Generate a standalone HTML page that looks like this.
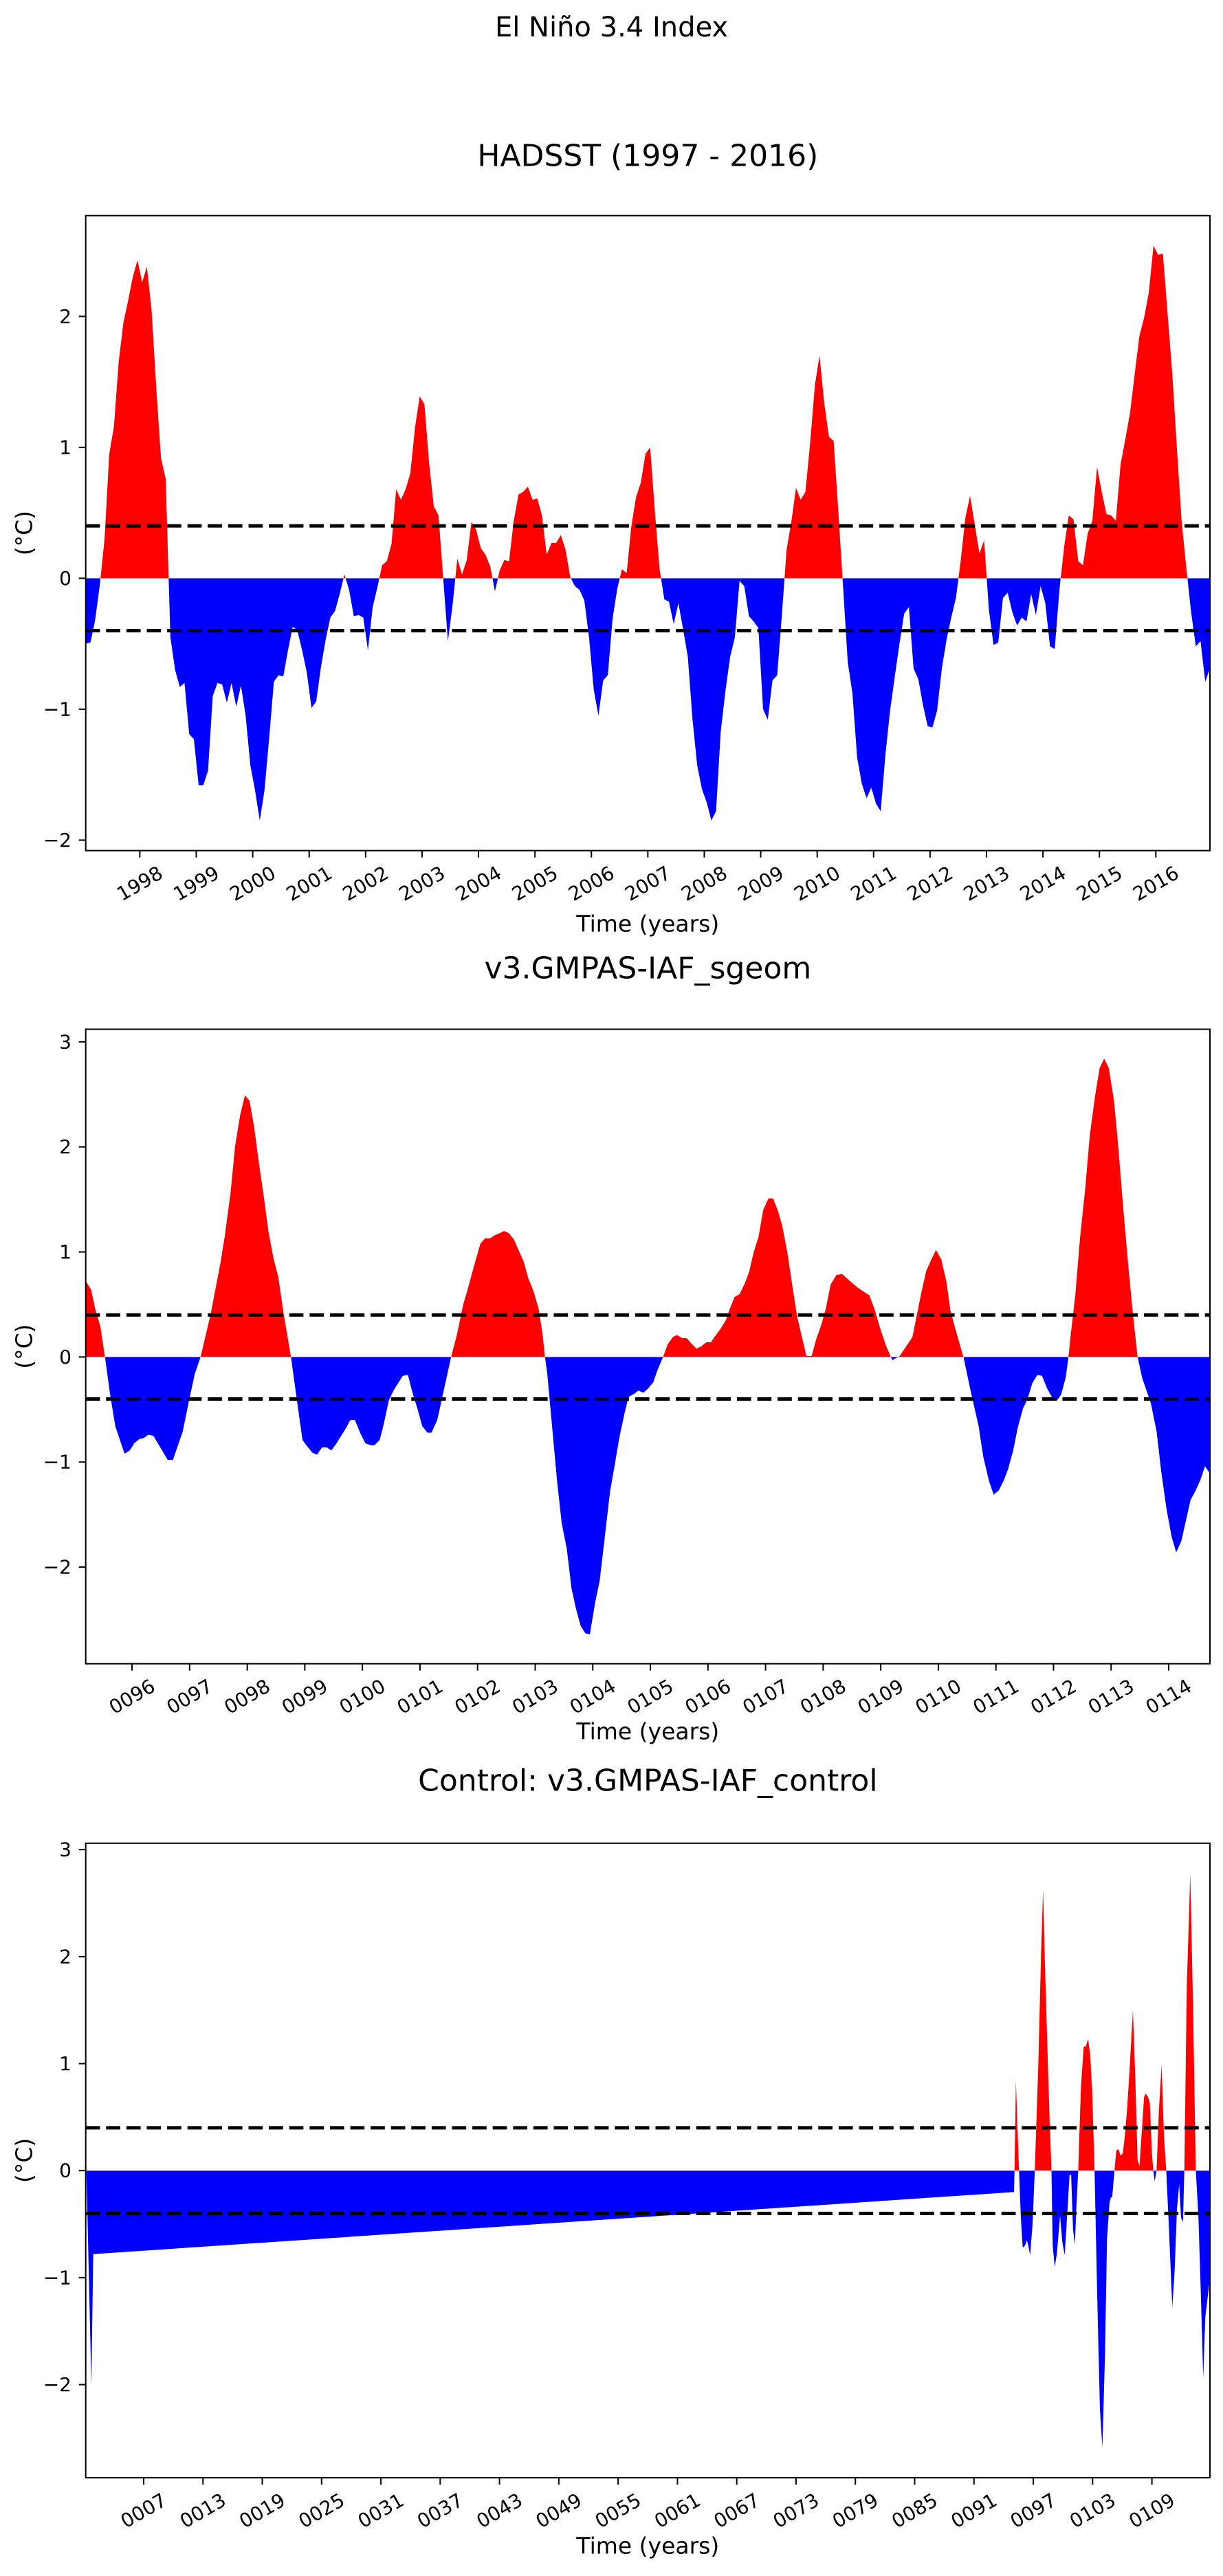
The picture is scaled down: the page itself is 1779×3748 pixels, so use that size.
<!DOCTYPE html>
<html><head><meta charset="utf-8"><title>El Niño 3.4 Index</title>
<style>html,body{margin:0;padding:0;background:#fff}svg{display:block}text{font-family:"DejaVu Sans","Liberation Sans",sans-serif;fill:#000}</style>
</head><body>
<svg id="fig" width="1779" height="3748" viewBox="0 0 1779 3748" xmlns="http://www.w3.org/2000/svg">
<rect width="1779" height="3748" fill="#fff"/>
<text x="889.5" y="40" font-size="40" text-anchor="middle" dominant-baseline="central">El Niño 3.4 Index</text>
</svg>
<script>
// ---- Panel 1: HADSST monthly (Jan 1997 - Dec 2016) ----
const hadsstValues = [
-0.5,-0.49,-0.32,-0.05,0.3,0.95,1.16,1.65,1.95,2.12,2.3,2.43,2.26,2.38,2.05,1.45,0.92,0.76,-0.45,-0.7,
-0.83,-0.8,-1.19,-1.23,-1.58,-1.58,-1.47,-0.9,-0.8,-0.81,-0.95,-0.8,-0.98,-0.82,-1.05,-1.43,-1.62,-1.85,-1.62,-1.22,
-0.79,-0.74,-0.75,-0.55,-0.37,-0.4,-0.55,-0.72,-0.99,-0.94,-0.68,-0.47,-0.3,-0.25,-0.12,0.03,-0.09,-0.29,-0.28,-0.3,
-0.55,-0.22,-0.07,0.1,0.13,0.26,0.68,0.6,0.68,0.8,
1.15,1.39,1.33,0.88,0.55,0.48,0.0,-0.48,-0.2,0.15,0.03,0.14,0.43,0.37,0.23,0.18,0.09,-0.1,0.06,0.14,
0.13,0.44,0.64,0.66,0.7,0.6,0.61,0.48,0.18,0.27,0.27,0.33,0.22,0.01,-0.06,-0.09,-0.17,-0.45,-0.85,-1.05,
-0.78,-0.74,-0.31,-0.08,0.07,0.04,0.4,0.62,0.73,0.95,1.0,0.51,0.07,-0.16,-0.18,-0.35,-0.19,-0.39,-0.6,-1.08,
-1.43,-1.61,-1.71,-1.85,-1.78,-1.17,-0.86,-0.6,-0.45,-0.02,-0.06,-0.29,-0.33,-0.38,-1.0,-1.08,-0.78,-0.74,-0.28,0.22,
0.43,0.69,0.6,0.66,1.03,
1.47,1.7,1.34,1.08,1.05,0.51,-0.06,-0.64,-0.88,-1.37,-1.57,-1.68,-1.6,-1.72,-1.78,-1.35,-1.01,-0.75,-0.5,-0.27,
-0.22,-0.69,-0.77,-0.97,-1.13,-1.14,-1.01,-0.69,-0.47,-0.3,-0.15,0.13,0.46,0.63,0.41,0.19,0.29,-0.24,-0.51,-0.49,
-0.15,-0.11,-0.26,-0.36,-0.3,-0.33,-0.12,-0.28,-0.06,-0.19,-0.52,-0.54,-0.09,0.24,0.48,0.45,0.13,0.1,0.34,0.44,
0.85,0.66,0.49,0.48,0.44,0.87,1.06,1.26,1.56,1.85,1.99,2.18,2.54,2.47,2.48,2.02,1.56,0.98,0.43,0.07,
-0.26,-0.52,-0.48,-0.79,-0.69];
const hadsstStartYear = 1997;
const hadsstTickYears = [1998,1999,2000,2001,2002,2003,2004,2005,2006,2007,2008,2009,2010,2011,2012,2013,2014,2015,2016];
const hadsstYTicks = [-2,-1,0,1,2];

// ---- Panel 2: v3.GMPAS-IAF_sgeom ----
const sgeomYears = [95.2,95.29,95.36,95.45,95.53,95.62,95.71,95.79,95.87,95.96,96.04,96.13,96.21,96.28,96.37,96.62,96.71,96.88,96.98,97.09,
97.19,97.37,97.54,97.61,97.71,97.79,97.88,97.96,98.04,98.12,98.21,98.29,98.37,98.46,98.54,98.63,98.76,98.88,98.96,99.04,
99.13,99.21,99.3,99.38,99.46,99.54,99.7,99.79,99.87,99.96,100.05,100.14,100.21,100.3,100.37,100.46,100.55,100.7,100.79,100.87,
100.96,101.04,101.13,101.2,101.3,101.46,101.54,101.64,101.75,101.82,101.97,102.05,102.13,102.22,102.3,102.39,102.46,102.54,102.63,102.71,
102.8,102.88,102.97,103.06,103.13,103.17,103.21,103.29,103.38,103.46,103.55,103.63,103.71,103.79,103.87,103.95,104.04,104.12,104.22,104.3,
104.38,104.46,104.55,104.62,104.72,104.79,104.88,104.96,105.05,105.12,105.22,105.3,105.39,105.46,105.55,105.63,105.71,105.8,105.88,105.97,
106.05,106.14,106.22,106.31,106.38,106.46,106.55,106.64,106.72,106.79,106.88,106.96,107.05,107.13,107.21,107.29,107.38,107.47,107.55,107.64,
107.71,107.8,107.88,107.97,108.05,108.13,108.23,108.33,108.45,108.6,108.71,108.8,108.89,108.98,109.09,109.2,109.33,109.44,109.55,109.7,
109.79,109.88,109.96,110.05,110.14,110.21,110.31,110.44,110.56,110.7,110.78,110.88,110.96,111.05,111.14,111.21,111.3,111.38,111.47,111.55,
111.63,111.72,111.8,111.89,111.97,112.05,112.13,112.21,112.26,112.29,112.38,112.46,112.55,112.63,112.72,112.8,112.88,112.96,113.05,113.12,
113.21,113.3,113.38,113.46,113.54,113.69,113.79,113.87,113.96,114.05,114.13,114.22,114.38,114.46,114.55,114.63,114.716];
const sgeomValues = [0.72,0.64,0.46,0.29,0,-0.36,-0.66,-0.79,-0.92,-0.89,-0.82,-0.78,-0.77,-0.74,-0.75,-0.98,-0.98,-0.71,-0.44,-0.16,
0,0.42,0.91,1.15,1.56,2.01,2.31,2.49,2.44,2.19,1.82,1.52,1.19,0.93,0.76,0.42,0,-0.48,-0.79,-0.85,
-0.91,-0.93,-0.86,-0.86,-0.89,-0.83,-0.69,-0.6,-0.6,-0.72,-0.82,-0.84,-0.84,-0.79,-0.64,-0.41,-0.31,-0.18,-0.17,-0.34,
-0.5,-0.66,-0.72,-0.72,-0.6,-0.2,0,0.21,0.5,0.63,0.93,1.08,1.13,1.13,1.16,1.18,1.2,1.18,1.12,1.02,
0.91,0.75,0.63,0.46,0.21,0,-0.16,-0.64,-1.18,-1.58,-1.83,-2.2,-2.4,-2.56,-2.63,-2.64,-2.34,-2.13,-1.66,-1.28,
-1.03,-0.77,-0.54,-0.38,-0.35,-0.32,-0.34,-0.3,-0.24,-0.13,0,0.12,0.19,0.21,0.18,0.18,0.13,0.08,0.1,0.14,
0.14,0.21,0.27,0.35,0.46,0.57,0.6,0.7,0.82,0.99,1.15,1.4,1.51,1.51,1.4,1.25,0.99,0.66,0.38,0.17,
0.01,0.01,0.17,0.31,0.47,0.69,0.78,0.79,0.73,0.66,0.62,0.59,0.46,0.29,0.11,-0.03,0.01,0.1,0.19,0.6,
0.82,0.93,1.02,0.93,0.72,0.44,0.24,-0.01,-0.32,-0.66,-0.95,-1.18,-1.31,-1.27,-1.17,-1.07,-0.89,-0.67,-0.49,-0.4,
-0.25,-0.17,-0.18,-0.3,-0.38,-0.42,-0.36,-0.2,0,0.17,0.6,1.13,1.6,2.11,2.48,2.75,2.84,2.75,2.44,2.03,
1.42,0.86,0.4,0,-0.2,-0.44,-0.71,-1.09,-1.44,-1.71,-1.86,-1.75,-1.36,-1.28,-1.17,-1.04,-1.11];
const sgeomXRange = [95.196, 114.716];
const sgeomTickYears = [96,97,98,99,100,101,102,103,104,105,106,107,108,109,110,111,112,113,114];
const sgeomYTicks = [-2,-1,0,1,2,3];

// ---- Panel 3: Control v3.GMPAS-IAF_control ----
const controlYears = [1.14,1.22,1.71,1.9,95.05,95.1,95.24,95.4,95.56,95.74,95.93,96.17,96.35,96.49,96.68,96.92,97.15,97.5,97.81,97.99,
98.18,98.41,98.65,98.84,98.96,99.17,99.38,99.71,99.94,100.18,100.41,100.67,100.83,101.02,101.21,101.35,101.54,101.82,102.1,102.31,
102.54,102.75,102.96,103.2,103.41,103.55,103.74,103.99,104.25,104.46,104.72,104.86,104.98,105.21,105.4,105.63,105.82,106.05,106.26,106.5,
106.73,107.08,107.32,107.55,107.74,107.97,108.21,108.37,108.6,108.79,109.0,109.14,109.28,109.47,109.7,109.98,110.22,110.45,110.71,111.06,
111.3,111.53,111.76,111.95,112.14,112.28,112.53,112.88,113.16,113.44,113.7,113.94,114.19,114.4,114.87];
const controlValues = [0.3,-0.05,-2.0,-0.78,-0.2,0,0.84,0.4,0,-0.44,-0.72,-0.7,-0.65,-0.7,-0.79,-0.51,0,0.97,2.11,2.63,
1.92,1.2,0.48,0,-0.7,-0.9,-0.78,-0.42,-0.67,-0.79,-0.44,-0.04,-0.04,-0.55,-0.69,-0.36,0,0.78,1.16,1.16,
1.23,1.09,0.74,0,-0.93,-1.5,-2.23,-2.59,-1.73,-0.63,-0.29,-0.25,-0.25,0,0.19,0.2,0.14,0.16,0.32,0.59,
0.93,1.5,0.86,0.1,0.04,0.36,0.69,0.72,0.69,0.63,0.17,0,-0.1,0,0.55,0.99,0.32,0,-0.51,-1.28,
-0.93,-0.36,-0.13,-0.44,-0.48,0,1.73,2.78,1.54,0,-0.42,-1.12,-1.94,-1.37,-1.01];
const controlXRange = [1.14, 114.87];
const controlTickYears = [7,13,19,25,31,37,43,49,55,61,67,73,79,85,91,97,103,109];
const controlYTicks = [-2,-1,0,1,2,3];

const thresholds = [0.4, -0.4];

const SVGNS = 'http://www.w3.org/2000/svg';
const fig = document.getElementById('fig');
function mk(tag, attrs, parent) {
  const e = document.createElementNS(SVGNS, tag);
  for (const k in attrs) e.setAttribute(k, attrs[k]);
  (parent || fig).appendChild(e);
  return e;
}
function fmtY(v){ return v < 0 ? '\u2212' + Math.abs(v) : String(v); }
function pad4(v){ return String(v).padStart(4,'0'); }

function drawPanel(cfg) {
  const L = 124.7, R = 1760, T = cfg.top, B = cfg.bottom;
  const xs = v => L + (v - cfg.xr[0]) / (cfg.xr[1] - cfg.xr[0]) * (R - L);
  const ys = v => B - (v - cfg.yr[0]) / (cfg.yr[1] - cfg.yr[0]) * (B - T);
  const g = mk('g', {});
  
  
  const y0 = ys(0);
  const id = cfg.name;
  const defs = mk('defs', {}, g);
  const cpU = mk('clipPath', {id: id + '-up'}, defs);
  mk('rect', {x: L, y: T, width: R - L, height: y0 - T}, cpU);
  const cpD = mk('clipPath', {id: id + '-dn'}, defs);
  mk('rect', {x: L, y: y0, width: R - L, height: B - y0}, cpD);
  let d = 'M' + xs(cfg.xv[0]).toFixed(2) + ',' + y0.toFixed(2);
  for (let i = 0; i < cfg.vals.length; i++) d += 'L' + xs(cfg.xv[i]).toFixed(2) + ',' + ys(cfg.vals[i]).toFixed(2);
  d += 'L' + xs(cfg.xv[cfg.xv.length - 1]).toFixed(2) + ',' + y0.toFixed(2) + 'Z';
  const pos = mk('path', {d: d, fill: '#ff0000', 'clip-path': 'url(#' + id + '-up)'}, g);
  
  
  const neg = mk('path', {d: d, fill: '#0000ff', 'clip-path': 'url(#' + id + '-dn)'}, g);
  
  
  thresholds.forEach(t => {
    const ln = mk('line', {x1: L, x2: R, y1: ys(t), y2: ys(t), stroke: '#000', 'stroke-width': 5, 'stroke-dasharray': '20.7 8.9'}, g);
    
    
  });
  const frame = mk('rect', {x: L, y: T, width: R - L, height: B - T, fill: 'none', stroke: '#000', 'stroke-width': 2}, g);
  
  
  cfg.yticks.forEach(v => {
    const y = ys(v);
    const tk = mk('line', {x1: L - 10, x2: L, y1: y, y2: y, stroke: '#000', 'stroke-width': 2}, g);
    
    
    const tx = mk('text', {x: 104, y: y, 'font-size': 28, 'text-anchor': 'end', 'dominant-baseline': 'central'}, g);
    tx.textContent = fmtY(v);
    
    
  });
  cfg.xticks.forEach((v, k) => {
    const x = xs(cfg.tickPos[k]);
    const tk = mk('line', {x1: x, x2: x, y1: B, y2: B + 10, stroke: '#000', 'stroke-width': 2}, g);
    
    
    const cy = B + 48;
    const tx = mk('text', {x: x, y: cy, 'font-size': 28, 'text-anchor': 'middle', 'dominant-baseline': 'central', transform: 'rotate(-30 ' + x.toFixed(2) + ' ' + cy + ')'}, g);
    tx.textContent = cfg.fmtX(v);
    
    
  });
  const yl = mk('text', {x: 35, y: (T + B) / 2, 'font-size': 33, 'text-anchor': 'middle', 'dominant-baseline': 'central', transform: 'rotate(-90 35 ' + ((T + B) / 2) + ')'}, g);
  yl.textContent = '(°C)';
  
  
  const xl = mk('text', {x: (L + R) / 2, y: cfg.xlabelY, 'font-size': 33, 'text-anchor': 'middle', 'dominant-baseline': 'central'}, g);
  xl.textContent = 'Time (years)';
  
  
  const tt = mk('text', {x: (L + R) / 2, y: cfg.titleY, 'font-size': 44, 'text-anchor': 'middle', 'dominant-baseline': 'central'}, g);
  tt.textContent = cfg.title;
  
  
}

const hadsstIdx = hadsstValues.map((v, i) => i);
drawPanel({name: 'hadsst', top: 313.7, bottom: 1237.6, yr: [-2.08, 2.77],
  xr: [0, hadsstValues.length - 1], xv: hadsstIdx, vals: hadsstValues,
  xticks: hadsstTickYears, tickPos: hadsstTickYears.map(y => (y - hadsstStartYear) * 12 - 0.5),
  fmtX: v => String(v), yticks: hadsstYTicks, title: 'HADSST (1997 - 2016)', titleY: 227, xlabelY: 1344});
drawPanel({name: 'sgeom', top: 1497.5, bottom: 2420.7, yr: [-2.92, 3.12],
  xr: sgeomXRange, xv: sgeomYears, vals: sgeomValues,
  xticks: sgeomTickYears, tickPos: sgeomTickYears, fmtX: pad4, yticks: sgeomYTicks,
  title: 'v3.GMPAS-IAF_sgeom', titleY: 1409, xlabelY: 2519});
drawPanel({name: 'control', top: 2681.8, bottom: 3605, yr: [-2.87, 3.06],
  xr: controlXRange, xv: controlYears, vals: controlValues,
  xticks: controlTickYears, tickPos: controlTickYears, fmtX: pad4, yticks: controlYTicks,
  title: 'Control: v3.GMPAS-IAF_control', titleY: 2591, xlabelY: 3704});
</script>
</body></html>
